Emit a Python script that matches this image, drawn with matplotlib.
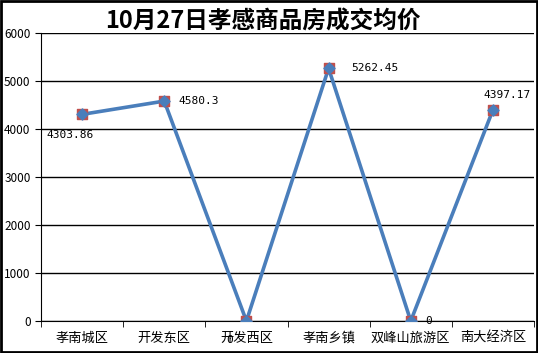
import matplotlib.pyplot as plt
from matplotlib.patches import Rectangle

plt.rcParams['font.family'] = ['Noto Sans CJK SC', 'DejaVu Sans']

districts = ['孝南城区', '开发东区', '开发西区', '孝南乡镇', '双峰山旅游区', '南大经济区']
prices = [4303.86, 4580.3, 0, 5262.45, 0, 4397.17]
labels = ['4303.86', '4580.3', '0', '5262.45', '0', '4397.17']

fig = plt.figure(figsize=(5.38, 3.53), dpi=100)
ax = fig.add_axes([0.0762, 0.0907, 0.9164, 0.816])

x = list(range(len(districts)))
ax.plot(x, prices, color='#4A7EBB', lw=2.6, zorder=3)
ax.scatter(x, prices, marker='s', s=50, color='#C0504D', zorder=4)
ax.scatter(x, prices, marker='D', s=32, color='#4A7EBB', zorder=5)

# label offsets (points), text centred
offs = [(-9, -15), (25, 0), (-12, -13.5), (33, 0), (13, 0), (10, 10.5)]
for i, (v, t) in enumerate(zip(prices, labels)):
    dx, dy = offs[i]
    ax.annotate(t, (i, v), xytext=(dx, dy), textcoords='offset points',
                ha='center', va='center', fontsize=8, family=['DejaVu Sans Mono'])

ax.set_xlim(-0.5, 5.5)
ax.set_ylim(0, 6000)
ax.set_yticks(range(0, 6001, 1000))
ax.set_xticks(x)
ax.set_xticklabels(districts, fontsize=9.5)
ax.set_xticks([i - 0.5 for i in range(7)], minor=True)
ax.tick_params(axis='x', which='major', length=0, pad=8)
ax.tick_params(axis='x', which='minor', length=4, direction='out', color='black')
ax.tick_params(axis='y', length=4, direction='out', labelsize=8.5, color='black')
ax.grid(axis='y', color='black', lw=1)
for s in ['top', 'right']:
    ax.spines[s].set_visible(False)
ax.spines['left'].set_color('black')
ax.spines['bottom'].set_color('black')

fig.text(0.489, 0.938, '10月27日孝感商品房成交均价', ha='center', va='center',
         fontsize=17, fontweight='bold')
fig.patches.append(Rectangle((0.002, 0.003), 0.996, 0.994, transform=fig.transFigure,
                             fill=False, edgecolor='black', lw=2))

fig.savefig('out.png', dpi=100)
